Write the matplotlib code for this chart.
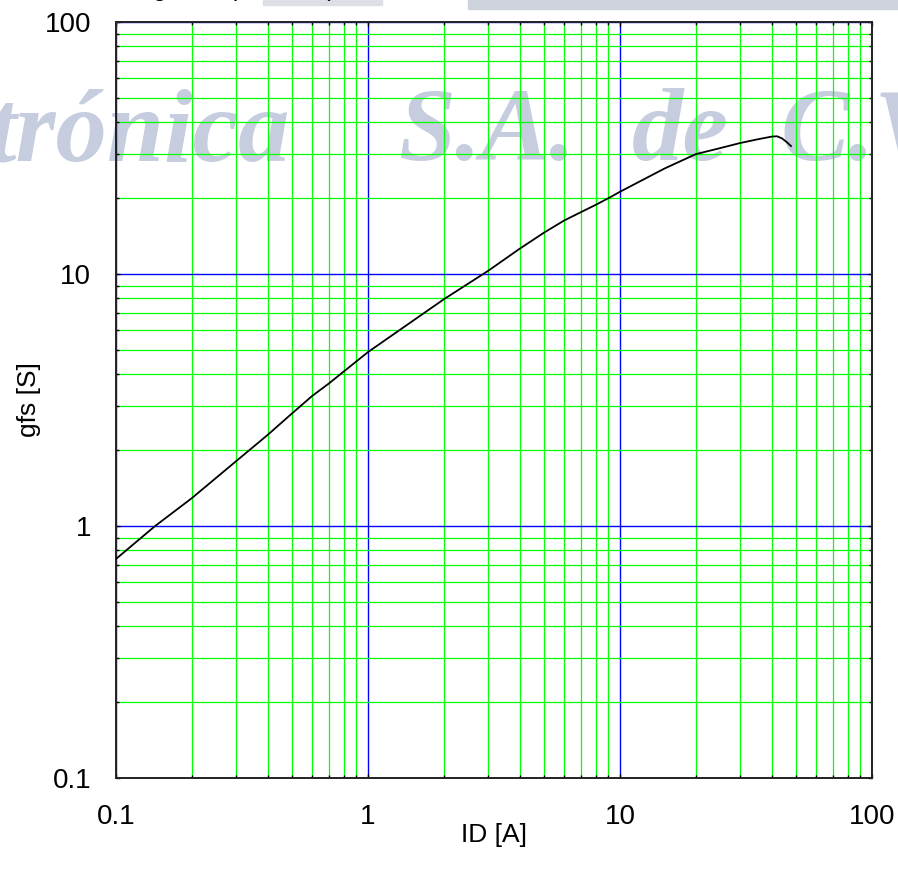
import matplotlib
matplotlib.use("Agg")
import matplotlib.pyplot as plt
from matplotlib.patches import Rectangle
from matplotlib.ticker import LogLocator, NullFormatter, FixedFormatter, FixedLocator

plt.rcParams['font.family'] = ['Liberation Sans', 'DejaVu Sans']

# transconductance curve
id_amps = [0.1, 0.143, 0.2, 0.3, 0.4, 0.5, 0.6, 0.7, 1, 2, 3, 4, 5, 6, 7, 8, 9, 10,
           15, 20, 25, 30, 35, 40, 42, 44, 46, 47.7]
gfs_s = [0.74, 1.0, 1.29, 1.81, 2.30, 2.80, 3.28, 3.68, 4.9, 7.94, 10.3, 12.6, 14.6,
         16.3, 17.6, 18.8, 20.0, 21.2, 26.2, 29.9, 31.6, 33.1, 34.2, 35.1, 35.2, 34.5,
         33.3, 32.2]

decades = [0.1, 1, 10, 100]
decade_labels = ['0.1', '1', '10', '100']

W, H = 898, 874
fig = plt.figure(figsize=(W / 100, H / 100), dpi=100)
fig.patch.set_facecolor('white')

ax = fig.add_axes([116 / W, 96 / H, 756 / W, 756 / H])
ax.set_facecolor('none')
ax.set_xscale('log')
ax.set_yscale('log')
ax.set_xlim(0.1, 100)
ax.set_ylim(0.1, 100)

# grid: blue decades, green in between
ax.xaxis.set_major_locator(FixedLocator(decades))
ax.yaxis.set_major_locator(FixedLocator(decades))
ax.xaxis.set_major_formatter(FixedFormatter(decade_labels))
ax.yaxis.set_major_formatter(FixedFormatter(decade_labels))
ax.xaxis.set_minor_locator(LogLocator(base=10, subs=range(2, 10)))
ax.yaxis.set_minor_locator(LogLocator(base=10, subs=range(2, 10)))
ax.xaxis.set_minor_formatter(NullFormatter())
ax.yaxis.set_minor_formatter(NullFormatter())
ax.grid(which='minor', color='#00ff00', lw=0.9)
ax.grid(which='major', color='#0000ff', lw=1.0)

ax.plot(id_amps, gfs_s, color='black', lw=1.3, zorder=3)

ax.tick_params(which='both', direction='in', top=True, right=True, color='black')
ax.tick_params(which='major', length=3, width=1, labelsize=20)
ax.tick_params(which='minor', length=2.5, width=1)
ax.tick_params(axis='y', which='major', pad=18)
ax.tick_params(axis='x', which='major', pad=19)
for s in ax.spines.values():
    s.set_linewidth(1.4)
    s.set_color('#222222')

ax.set_ylabel('gfs [S]', fontsize=19)
ax.set_xlabel('ID [A]', fontsize=19)
ax.yaxis.set_label_coords(-0.099, 0.5)
ax.xaxis.set_label_coords(0.5, -0.059)

# watermark behind the grid
wm = dict(color='#c6cddf', fontsize=74, family='Liberation Serif', weight='bold',
          style='italic', va='baseline', zorder=-1)
fig.text(-12 / W, 1 - 160 / H, 'trónica', **wm)
fig.text(398 / W, 1 - 160 / H, 'S.A.', **wm)
fig.text(632 / W, 1 - 160 / H, 'de', **wm)
fig.text(780 / W, 1 - 160 / H, 'C.V.', **wm)

# cut-off header remnants at the very top
fig.patches.append(Rectangle((468 / W, 1 - 9 / H), 432 / W, 9 / H,
                             transform=fig.transFigure, color='#cdd2db', zorder=-1))
fig.patches.append(Rectangle((263 / W, 1 - 5 / H), 119 / W, 5 / H,
                             transform=fig.transFigure, color='#dcdfe4', zorder=-1))
fig.text(153 / W, 1 + 4 / H, 'gfs = f (ID, VDS);', fontsize=18, va='baseline')

fig.savefig('out.png', dpi=100)
